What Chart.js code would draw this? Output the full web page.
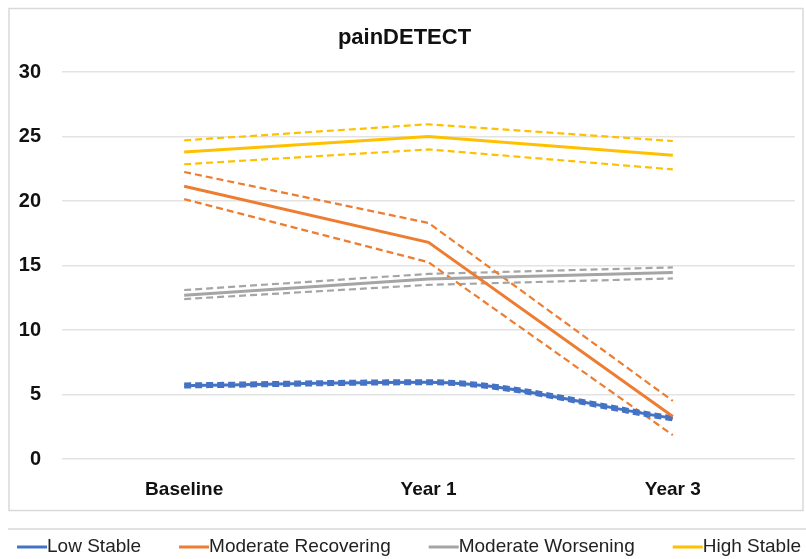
<!DOCTYPE html>
<html>
<head>
<meta charset="utf-8">
<script src="https://cdn.jsdelivr.net/npm/chart.js@4/dist/chart.umd.min.js"></script>
<style>
  html, body { margin: 0; padding: 0; background: #ffffff; }
  #wrap { width: 806px; height: 559px; position: relative; }
</style>
</head>
<body>
<div id="wrap"><canvas id="c" width="806" height="559"></canvas></div>
<script>
// Time points
const categories = ['Baseline', 'Year 1', 'Year 3'];
const yTicks = [0, 5, 10, 15, 20, 25, 30];

// Trajectory means with upper / lower confidence bounds
const lowStable = [5.7, 5.95, 3.15];
const lowStableUpper = [5.85, 6.1, 3.3];
const lowStableLower = [5.55, 5.8, 3.0];

const moderateRecovering = [21.15, 16.8, 3.3];
const moderateRecoveringUpper = [22.25, 18.3, 4.5];
const moderateRecoveringLower = [20.15, 15.25, 1.85];

const moderateWorsening = [12.7, 13.95, 14.45];
const moderateWorseningUpper = [13.1, 14.35, 14.85];
const moderateWorseningLower = [12.4, 13.5, 14.0];

const highStable = [23.8, 25.0, 23.55];
const highStableUpper = [24.7, 25.95, 24.65];
const highStableLower = [22.85, 24.0, 22.45];

const groupNames = ['Low Stable', 'Moderate Recovering', 'Moderate Worsening', 'High Stable'];
const groupColors = ['#4472C4', '#ED7D31', '#A5A5A5', '#FFC000'];
const groupSeries = [
  [lowStable, lowStableUpper, lowStableLower],
  [moderateRecovering, moderateRecoveringUpper, moderateRecoveringLower],
  [moderateWorsening, moderateWorseningUpper, moderateWorseningLower],
  [highStable, highStableUpper, highStableLower]
];

const datasets = [];
groupSeries.forEach((set, g) => {
  const smooth = g === 0 ? 'monotone' : 'default';
  const tension = g === 0 ? 0.4 : 0;
  datasets.push({
    label: groupNames[g], data: set[0], borderColor: groupColors[g], backgroundColor: groupColors[g],
    borderWidth: 3, pointRadius: 0, tension: tension, cubicInterpolationMode: smooth, main: true, order: 1
  });
  [set[1], set[2]].forEach(d => datasets.push({
    label: groupNames[g] + ' CI', data: d, borderColor: groupColors[g], backgroundColor: groupColors[g],
    borderWidth: 2.2, borderDash: [7, 4], pointRadius: 0, tension: tension, cubicInterpolationMode: smooth,
    main: false, order: 2
  }));
});

const FONT = '"Liberation Sans Narrow", "Liberation Sans", sans-serif';

// Outer frame around the plot area and the rule above the legend
const framePlugin = {
  id: 'frame',
  beforeDraw(chart) {
    const ctx = chart.ctx;
    ctx.save();
    ctx.strokeStyle = '#d9d9d9';
    ctx.lineWidth = 1.5;
    ctx.strokeRect(9, 8.5, 794, 502);
    ctx.beginPath();
    ctx.moveTo(8, 529);
    ctx.lineTo(806, 529);
    ctx.stroke();
    ctx.restore();
  }
};

// Single-row legend: line swatch butted against the label
const rowLegend = {
  id: 'rowLegend',
  afterDraw(chart) {
    const ctx = chart.ctx;
    const items = chart.data.datasets.filter(d => d.main);
    const swatch = 30, gap = 38, y = 547;
    ctx.save();
    ctx.font = '19px ' + FONT;
    const widths = items.map(d => swatch + ctx.measureText(d.label).width);
    const total = widths.reduce((a, b) => a + b, 0) + gap * (items.length - 1);
    let x = 409 - total / 2;
    items.forEach((d, i) => {
      ctx.strokeStyle = d.borderColor;
      ctx.lineWidth = 3;
      ctx.beginPath();
      ctx.moveTo(x, y);
      ctx.lineTo(x + swatch, y);
      ctx.stroke();
      ctx.fillStyle = '#222';
      ctx.textBaseline = 'middle';
      ctx.fillText(d.label, x + swatch, y);
      x += widths[i] + gap;
    });
    ctx.restore();
  }
};

new Chart(document.getElementById('c'), {
  type: 'line',
  data: { labels: categories, datasets: datasets },
  plugins: [framePlugin, rowLegend],
  options: {
    responsive: false,
    animation: false,
    layout: { padding: { left: 14, right: 11, top: 10, bottom: 48 } },
    plugins: {
      title: {
        display: true, text: 'painDETECT', color: '#111',
        font: { family: FONT, size: 22, weight: 'bold' },
        padding: { top: 15, bottom: 20.6 }
      },
      legend: { display: false },
      tooltip: { enabled: false }
    },
    scales: {
      x: {
        offset: true,
        grid: { display: false, drawTicks: false },
        border: { display: false },
        ticks: { color: '#111', font: { family: FONT, size: 19, weight: 'bold' }, padding: 19 },
        afterFit(scale) { scale.height = 52; }
      },
      y: {
        min: 0, max: 30,
        afterBuildTicks(scale) { scale.ticks = yTicks.map(v => ({ value: v })); },
        grid: { color: '#e3e3e3', lineWidth: 1.5, drawTicks: false },
        border: { display: false },
        ticks: { color: '#111', font: { family: FONT, size: 20, weight: 'bold' }, padding: 21 },
        afterFit(scale) { scale.width = 48; }
      }
    }
  }
});
</script>
</body>
</html>
